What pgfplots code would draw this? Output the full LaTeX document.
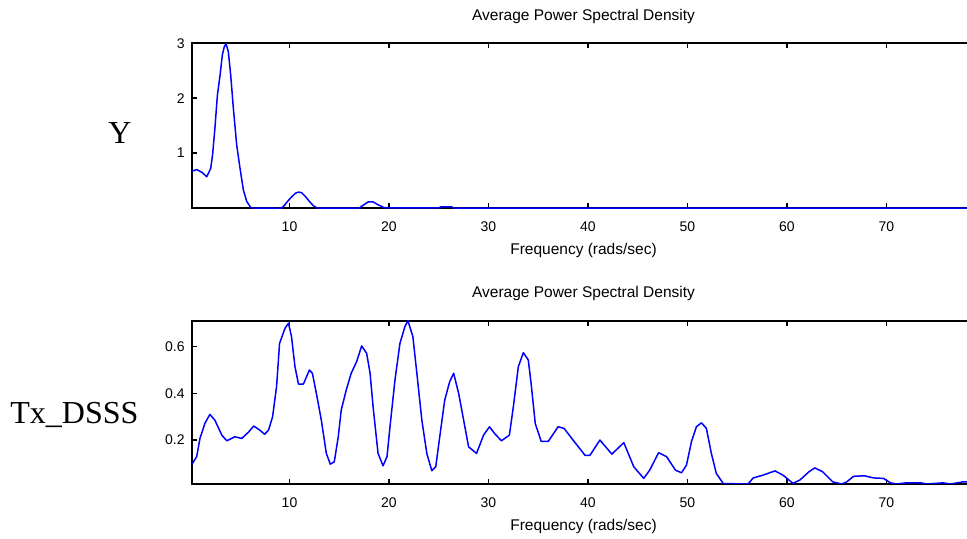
\documentclass[border=0pt]{standalone}
\usepackage{fontspec}
\setmainfont{Liberation Serif}
\newfontfamily\mfont{Liberation Sans}
\usepackage{pgfplots}
\pgfplotsset{compat=1.18}

% 1 px of the reference = 0.5pt
\pgfplotsset{psd/.style={
    scale only axis,
    width=391.5pt,
    xmin=0.2, xmax=78.9,
    xtick={10,20,...,70},
    tick align=inside,
    major tick length=2.5pt,
    axis line style={line width=0.8pt},
    every tick/.style={black, line width=0.7pt},
    /pgf/number format/assume math mode=true,
    ticklabel style={font=\mfont\fontsize{7}{8}\selectfont, inner sep=0pt},
    xticklabel style={anchor=base, yshift=-11.85pt},
    yticklabel style={anchor=east, xshift=-3.5pt},
    title={Average Power Spectral Density},
    every axis title shift=0pt,
    title style={at={(0.5,1)}, anchor=base, yshift=11.5pt, inner sep=0pt,
                 font=\mfont\fontsize{7.75}{9}\selectfont},
    xlabel={Frequency (rads/sec)},
    xlabel style={at={(0.5,0)}, anchor=base, yshift=-23.25pt, inner sep=0pt,
                  font=\mfont\fontsize{7.75}{9}\selectfont},
    no markers,
    every axis plot/.append style={blue, line width=0.75pt, line join=round},
}}

\begin{document}
\begin{tikzpicture}
\begin{axis}[psd,
    at={(96pt,-21.65pt)}, anchor=north west,
    height=82.35pt,
    ymin=0, ymax=3,
    ytick={1,2,3},
]
\addplot coordinates {
 (0.2,0.67) (0.67,0.70) (1.2,0.65) (1.68,0.57) (2.08,0.72) (2.28,0.99)
 (2.51,1.47) (2.75,2.05) (3.02,2.42) (3.25,2.79) (3.45,2.94) (3.62,2.99)
 (3.85,2.85) (4.09,2.42) (4.36,1.81) (4.69,1.15) (5.03,0.72) (5.36,0.33)
 (5.7,0.12) (6.1,0.01) (6.4,0) (9.2,0) (9.5,0.05) (9.8,0.12) (10.2,0.2)
 (10.6,0.27) (10.9,0.29) (11.2,0.28) (11.6,0.21) (12.0,0.12) (12.4,0.04)
 (12.8,0) (17.0,0) (17.4,0.05) (17.9,0.11) (18.4,0.11) (18.9,0.06) (19.5,0.005)
 (25.0,0) (25.2,0.02) (26.3,0.02) (26.5,0) (78.9,0)
};
\end{axis}

\begin{axis}[psd,
    at={(96pt,-160.35pt)}, anchor=north west,
    height=81.65pt,
    ymin=0.012, ymax=0.711,
    ytick={0.2,0.4,0.6},
]
\addplot coordinates {
 (0.2,0.097) (0.67,0.129) (1.0,0.207) (1.5,0.272) (2.0,0.31) (2.5,0.285)
 (3.2,0.221) (3.7,0.197) (4.5,0.214) (5.2,0.207) (5.9,0.235) (6.4,0.26)
 (7.0,0.243) (7.5,0.225) (7.9,0.243) (8.3,0.3) (8.7,0.429) (9.0,0.614)
 (9.55,0.679) (9.9,0.70) (10.2,0.643) (10.55,0.514) (10.9,0.44) (11.4,0.44)
 (12.0,0.5) (12.3,0.486) (12.7,0.4) (13.2,0.285) (13.7,0.143) (14.1,0.097)
 (14.5,0.107) (14.9,0.214) (15.2,0.329) (15.7,0.414) (16.2,0.486) (16.75,0.536)
 (17.25,0.603) (17.75,0.572) (18.1,0.486) (18.4,0.343) (18.9,0.143) (19.4,0.09)
 (19.8,0.129) (20.1,0.257) (20.6,0.457) (21.1,0.614) (21.6,0.686) (21.9,0.711)
 (22.4,0.643) (22.8,0.486) (23.3,0.286) (23.8,0.143) (24.3,0.069) (24.7,0.086)
 (25.1,0.214) (25.6,0.371) (26.1,0.45) (26.5,0.486) (27.0,0.4) (27.5,0.286)
 (28.0,0.171) (28.8,0.143) (29.5,0.221) (30.1,0.257) (30.6,0.229) (31.3,0.197)
 (32.1,0.221) (32.5,0.343) (33.0,0.514) (33.5,0.574) (34.0,0.543) (34.3,0.436)
 (34.7,0.271) (35.3,0.194) (36.0,0.194) (37.0,0.257) (37.6,0.25) (38.5,0.2)
 (39.7,0.135) (40.2,0.135) (41.2,0.2) (42.4,0.14) (43.6,0.189) (44.6,0.086)
 (45.6,0.036) (46.2,0.071) (47.1,0.146) (47.9,0.129) (48.8,0.071) (49.4,0.06)
 (49.9,0.093) (50.4,0.193) (50.9,0.257) (51.4,0.274) (51.9,0.25) (52.4,0.143)
 (52.9,0.057) (53.6,0.014) (56.1,0.012) (56.6,0.038) (57.6,0.05) (58.8,0.068)
 (59.6,0.05) (60.6,0.015) (61.3,0.029) (62.2,0.064) (62.8,0.081) (63.6,0.064)
 (64.6,0.021) (65.5,0.012) (66.0,0.021) (66.7,0.045) (67.8,0.047) (68.7,0.038)
 (69.7,0.036) (70.4,0.017) (71.0,0.012) (72.0,0.017) (73.5,0.017) (74.0,0.012)
 (75.7,0.017) (76.4,0.012) (77.7,0.021) (78.9,0.021)
};
\end{axis}

\node[anchor=base, inner sep=0pt, font=\fontsize{16}{18}\selectfont] at (60pt,-71.65pt) {Y};
\node[anchor=base, inner sep=0pt, font=\fontsize{16}{18}\selectfont] at (37.2pt,-211.65pt) {Tx\_DSSS};

\pgfresetboundingbox
\path[use as bounding box] (0,0) rectangle (483.5pt,-269.5pt);
\end{tikzpicture}
\end{document}
